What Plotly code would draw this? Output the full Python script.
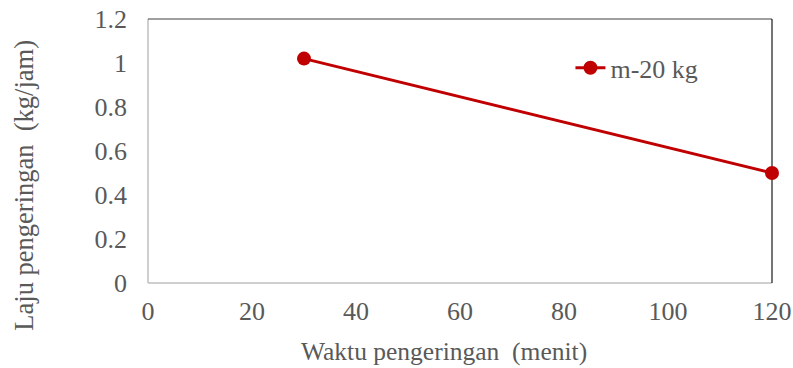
import plotly.graph_objects as go

waktu = [30, 120]
laju = [1.02, 0.50]
series_name = "m-20 kg"
x_ticks = [0, 20, 40, 60, 80, 100, 120]
y_ticks = [0, 0.2, 0.4, 0.6, 0.8, 1, 1.2]
y_tick_text = ["0", "0.2", "0.4", "0.6", "0.8", "1", "1.2"]
x_title = "Waktu pengeringan\u00a0 (menit)"
y_title = "Laju pengeringan\u00a0 (kg/jam)"

RED = "#c00000"
GRAY = "#595959"
FONT = "Liberation Serif"
FS = 26

fig = go.Figure()
fig.add_trace(go.Scatter(
    x=waktu, y=laju, name=series_name, mode="lines+markers",
    line=dict(color=RED, width=3),
    marker=dict(color=RED, size=14),
    cliponaxis=False,
))

fig.update_layout(
    width=793, height=368,
    margin=dict(l=147.5, r=21, t=19, b=84.5, autoexpand=False),
    paper_bgcolor="white", plot_bgcolor="white",
    font=dict(family=FONT, color=GRAY, size=FS),
    showlegend=True,
    legend=dict(x=0.677, y=0.815, xanchor="left", yanchor="middle",
                bgcolor="rgba(0,0,0,0)", font=dict(size=FS, color=GRAY)),
    xaxis=dict(range=[0, 120], tickvals=x_ticks, showgrid=False, zeroline=False,
               showline=False, ticks="", ticklabelstandoff=10, automargin=False,
               ticklabeloverflow="allow"),
    yaxis=dict(range=[0, 1.2], tickvals=y_ticks, ticktext=y_tick_text, showgrid=False,
               zeroline=False, showline=False, ticks="", ticklabelstandoff=20,
               automargin=False, ticklabeloverflow="allow"),
)

fig.add_annotation(text=x_title, xref="paper", yref="paper", x=0.474, y=-0.259,
                   xanchor="center", yanchor="middle", showarrow=False,
                   font=dict(size=25.5, color=GRAY, family=FONT))
fig.add_annotation(text=y_title, xref="paper", yref="paper", x=-0.198, y=0.3705,
                   xanchor="center", yanchor="middle", showarrow=False, textangle=-90,
                   font=dict(size=26.5, color=GRAY, family=FONT))

# plot frame: light gray left/bottom axes, dark top/right border
fig.add_shape(type="line", xref="paper", yref="paper", x0=0, x1=0, y0=0, y1=1,
              line=dict(color="#bfbfbf", width=1.5), layer="below")
fig.add_shape(type="line", xref="paper", yref="paper", x0=0, x1=1, y0=0, y1=0,
              line=dict(color="#bfbfbf", width=1.5), layer="below")
fig.add_shape(type="line", xref="paper", yref="paper", x0=0, x1=1, y0=1, y1=1,
              line=dict(color="#404040", width=1.2), layer="below")
fig.add_shape(type="line", xref="paper", yref="paper", x0=1, x1=1, y0=0, y1=1,
              line=dict(color="#1a1a1a", width=1.2), layer="below")

fig.write_html("out.html", config={"displayModeBar": False},
               post_script="document.body.style.margin='0';")
